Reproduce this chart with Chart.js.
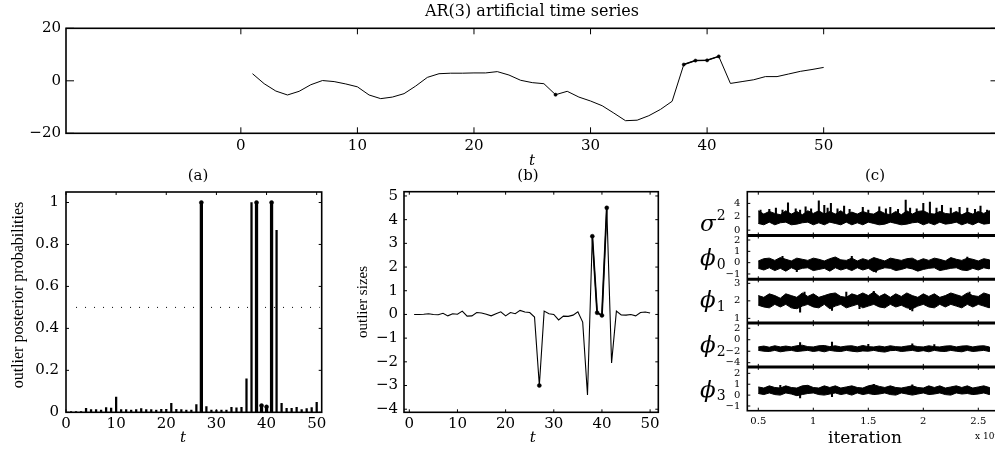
<!DOCTYPE html>
<html>
<head>
<meta charset="utf-8">
<script src="https://cdn.jsdelivr.net/npm/chart.js@4.4.1/dist/chart.umd.min.js"></script>
<style>
  html, body { margin: 0; padding: 0; background: #fff; width: 995px; height: 453px; overflow: hidden; }
  .panel { position: absolute; }
</style>
</head>
<body>
<div class="panel" style="left:0;top:0"><canvas id="topChart" width="1010" height="172"></canvas></div>
<div class="panel" style="left:0;top:160px"><canvas id="probChart" width="330" height="293"></canvas></div>
<div class="panel" style="left:330px;top:160px"><canvas id="sizeChart" width="335" height="293"></canvas></div>
<div class="panel" style="left:665px;top:160px"><canvas id="mcmcChart" width="345" height="293"></canvas></div>
<script>
// time index shared by the top series and panels (a), (b)
const tIndex = [1,2,3,4,5,6,7,8,9,10,11,12,13,14,15,16,17,18,19,20,21,22,23,24,25,
  26,27,28,29,30,31,32,33,34,35,36,37,38,39,40,41,42,43,44,45,46,47,48,49,50];
const outlierTimes = [27, 38, 39, 40, 41];

// AR(3) series (top)
const arSeries = [2.7,-1.1,-3.9,-5.4,-4.0,-1.5,0.1,-0.3,-1.2,-2.3,-5.4,-6.8,-6.2,-4.9,-2.0,1.3,2.7,2.9,2.9,3.0,
  3.0,3.5,2.2,0.2,-0.7,-1.1,-5.3,-4.0,-6.2,-7.7,-9.5,-12.3,-15.2,-15.0,-13.3,-10.9,-7.8,6.2,7.7,7.8,
  9.3,-1.0,-0.3,0.4,1.6,1.6,2.6,3.6,4.3,5.1];
const topXTicks = [0, 10, 20, 30, 40, 50];
const topYTicks = [-20, 0, 20];

// (a) outlier posterior probabilities
const probs = [0.004,0.004,0.004,0.019,0.013,0.013,0.01,0.022,0.02,0.072,0.013,0.013,0.011,0.013,0.018,0.013,0.013,0.011,0.014,0.014,
  0.043,0.014,0.013,0.011,0.01,0.037,1.0,0.027,0.01,0.01,0.01,0.011,0.024,0.021,0.024,0.16,1.0,1.0,0.032,0.026,
  1.0,0.867,0.043,0.019,0.019,0.024,0.013,0.018,0.022,0.048];
const probXTicks = [0, 10, 20, 30, 40, 50];
const probYTicks = [0, 0.2, 0.4, 0.6, 0.8, 1];
const probThreshold = 0.5;
const thresholdSpan = [2, 50.6];

// (b) outlier sizes
const sizes = [0,0,0.01,0.03,0,-0.01,0.05,-0.06,0.03,0.01,0.14,-0.07,-0.06,0.08,0.06,0.01,-0.06,0.03,0.11,-0.06,
  0.08,0.03,0.17,0.1,0.08,-0.11,-3.0,0.14,0.03,0,-0.23,-0.07,-0.08,-0.03,0.11,-0.32,-3.4,3.3,0.07,-0.04,
  4.5,-2.05,0.14,-0.02,-0.03,0,-0.06,0.08,0.1,0.06];
const sizeXTicks = [0, 10, 20, 30, 40, 50];
const sizeYTicks = [-4, -3, -2, -1, 0, 1, 2, 3, 4, 5];

// (c) MCMC traces, iterations in units of 10^4: band edges + visible spikes [x, low, high]
const iterX = [0.5,0.55,0.6,0.65,0.7,0.75,0.8,0.85,0.9,0.95,1.0,1.05,1.1,1.15,1.2,1.25,1.3,1.35,1.4,1.45,1.5,
  1.55,1.6,1.65,1.7,1.75,1.8,1.85,1.9,1.95,2.0,2.05,2.1,2.15,2.2,2.25,2.3,2.35,2.4,2.45,2.5,2.55,2.6];
const iterTicks = [0.5, 1, 1.5, 2, 2.5];

const sigmaHigh = [2.9,2.4,2.8,2.5,2.3,2.9,2.4,2.8,2.3,2.9,2.5,2.9,2.4,2.8,2.4,2.9,2.3,2.7,2.4,2.8,2.5,
  2.4,2.9,2.5,2.3,2.8,2.3,2.9,2.4,2.8,2.9,2.5,2.4,2.8,2.5,2.4,2.8,2.3,2.7,2.4,2.8,2.5,2.9];
const sigmaLow = [1.0,0.8,1.2,0.8,1.1,1.2,0.8,0.9,1.1,1.2,0.8,1.1,0.8,1.2,1.0,0.8,1.2,0.8,1.1,0.8,1.2,
  1.0,0.8,0.9,1.2,1.0,0.8,0.9,1.1,1.2,0.8,1.1,0.8,1.2,0.9,1.0,1.2,0.8,1.1,0.8,1.2,0.9,1.0];
const sigmaSpikes = [[0.52,2,3.0],[0.6,2,3.1],[0.66,2,3.3],[0.72,2,3.0],[0.77,2,4.1],[0.84,2,3.2],[0.88,2,3.0],
  [0.93,2,3.5],[0.98,2,3.2],[1.05,2,4.4],[1.1,2,3.7],[1.13,2,3.3],[1.16,2,4.0],[1.22,2,3.2],[1.28,2,3.6],
  [1.33,2,3.1],[1.45,2,3.4],[1.5,2,3.0],[1.6,2,3.5],[1.66,2,3.2],[1.7,2,3.4],[1.77,2,3.1],[1.84,2,4.5],
  [1.88,2,3.3],[1.94,2,3.2],[2.0,2,4.0],[2.06,2,4.2],[2.12,2,3.3],[2.17,2,3.7],[2.25,2,3.3],[2.33,2,3.4],
  [2.4,2,3.3],[2.47,2,3.1],[2.52,2,3.6],[2.58,2,3.0]];

const phi0High = [0.15,0.35,0.4,0.2,0.45,0.3,0.15,0.4,0.3,0.2,0.4,0.3,0.15,0.35,0.5,0.25,0.2,0.4,0.15,0.35,0.2,
  0.45,0.3,0.15,0.4,0.3,0.2,0.35,0.4,0.15,0.35,0.2,0.4,0.3,0.15,0.45,0.3,0.2,0.4,0.3,0.15,0.35,0.25];
const phi0Low = [-0.5,-0.65,-0.45,-0.7,-0.5,-0.75,-0.45,-0.65,-0.5,-0.45,-0.7,-0.6,-0.5,-0.75,-0.45,-0.65,-0.5,-0.7,-0.45,-0.65,-0.5,
  -0.8,-0.6,-0.45,-0.5,-0.7,-0.6,-0.45,-0.55,-0.75,-0.6,-0.5,-0.45,-0.7,-0.6,-0.5,-0.45,-0.65,-0.7,-0.5,-0.65,-0.45,-0.55];
const phi0Spikes = [[0.72,-0.2,0.55],[0.85,-0.8,-0.2],[1.35,-0.2,0.55],[1.57,-0.85,-0.2],[2.4,-0.2,0.5]];

const phi1High = [2.3,2.2,2.4,2.3,2.15,2.4,2.3,2.2,2.45,2.25,2.4,2.2,2.3,2.4,2.45,2.25,2.2,2.4,2.3,2.45,2.3,
  2.5,2.25,2.4,2.2,2.4,2.25,2.45,2.3,2.2,2.4,2.25,2.4,2.2,2.3,2.45,2.35,2.25,2.45,2.3,2.25,2.45,2.35];
const phi1Low = [1.75,1.65,1.6,1.8,1.65,1.8,1.6,1.55,1.7,1.8,1.65,1.6,1.8,1.55,1.7,1.8,1.6,1.7,1.8,1.6,1.7,
  1.8,1.65,1.6,1.8,1.65,1.75,1.6,1.55,1.7,1.8,1.65,1.6,1.8,1.65,1.8,1.7,1.6,1.8,1.65,1.8,1.7,1.6];
const phi1Spikes = [[0.83,1.55,2.0],[0.88,1.35,2.0],[0.92,2.0,2.5],[1.17,1.45,2.0],[1.3,2.0,2.5],[1.42,1.55,2.0],
  [1.55,2.0,2.55],[1.88,1.5,2.0],[1.9,1.42,2.0],[2.42,2.0,2.5]];

const phi2High = [-1.25,-1.1,-1.3,-1.05,-1.25,-1.1,-1.25,-1.05,-0.95,-1.2,-1.25,-1.05,-1.0,-1.2,-1.05,-1.25,-1.1,-1.05,-1.25,-1.0,-1.2,
  -1.25,-1.1,-1.25,-1.05,-1.2,-1.25,-1.1,-1.0,-1.2,-1.25,-1.05,-1.2,-1.25,-1.1,-1.05,-1.25,-1.1,-1.05,-1.25,-1.1,-1.05,-1.25];
const phi2Low = [-1.85,-2.0,-2.05,-1.85,-2.1,-1.95,-1.85,-2.05,-1.95,-1.85,-2.05,-1.9,-2.1,-1.85,-2.0,-2.05,-1.85,-2.0,-2.1,-1.95,-2.0,
  -1.85,-2.05,-2.15,-1.9,-1.85,-2.05,-1.95,-1.85,-2.05,-1.9,-2.1,-1.85,-2.0,-2.05,-1.85,-2.0,-2.1,-1.85,-2.05,-1.95,-1.85,-2.05];
const phi2Spikes = [[0.88,-1.5,-0.5],[1.17,-1.5,-0.4],[1.5,-1.5,-0.8],[1.9,-1.5,-0.7],[2.1,-1.5,-0.85]];

const phi3High = [0.75,0.65,0.85,0.7,0.65,0.85,0.7,0.65,0.85,0.9,0.7,0.65,0.85,0.7,0.85,0.65,0.75,0.85,0.7,0.65,0.85,
  0.95,0.8,0.7,0.85,0.7,0.65,0.75,0.85,0.7,0.65,0.85,0.7,0.85,0.65,0.75,0.85,0.7,0.85,0.65,0.75,0.85,0.7];
const phi3Low = [0.15,0.05,0.2,0.05,0.0,0.2,0.1,-0.05,0.05,0.15,0.2,0.05,0.0,0.1,0.2,0.05,0.15,0.0,0.2,0.05,0.15,
  0.05,0.1,0.2,0.05,0.0,0.2,0.1,0.0,0.1,0.2,0.05,0.1,0.2,0.05,0.0,0.2,0.1,0.15,0.05,0.1,0.2,0.05];
const phi3Spikes = [[0.7,0.4,0.9],[0.88,-0.25,0.4],[1.17,-0.15,0.4],[1.55,0.4,1.0],[1.9,0.4,0.95]];

const sigmaTicks = [0, 2, 4];
const phi0Ticks = [-1, 0, 1, 2];
const phi1Ticks = [1, 2, 3];
const phi2Ticks = [-4, -2, 0, 2];
const phi3Ticks = [-1, 0, 1, 2];

const SERIF = '"DejaVu Serif", serif';
Chart.defaults.font.family = SERIF;
Chart.defaults.color = '#000';
Chart.defaults.animation = false;

const fmt = v => (v < 0 ? '\u2212' + Math.abs(v) : String(v));
const fixedTicks = list => scale => { scale.ticks = list.map(v => ({ value: v })); };

function seg(ctx, x1, y1, x2, y2) {
  ctx.beginPath(); ctx.moveTo(x1, y1); ctx.lineTo(x2, y2); ctx.stroke();
}

function xAxis(min, max, ticks, height, pad, size) {
  return {
    type: 'linear', min, max, bounds: 'data', offset: false,
    grid: { display: false, drawTicks: false }, border: { display: false },
    afterBuildTicks: fixedTicks(ticks), afterFit: s => { s.height = height; },
    ticks: { padding: pad, maxRotation: 0, autoSkip: false, font: { family: SERIF, size }, callback: v => fmt(v) }
  };
}
function yAxis(min, max, ticks, width, pad, size, extra) {
  return Object.assign({
    type: 'linear', position: 'left', min, max, bounds: 'data', offset: false,
    grid: { display: false, drawTicks: false }, border: { display: false },
    afterBuildTicks: fixedTicks(ticks), afterFit: s => { s.width = width; },
    ticks: { padding: pad, autoSkip: false, font: { family: SERIF, size }, callback: v => fmt(v) }
  }, extra || {});
}

// box with inward ticks on all four sides
const boxFrame = {
  id: 'boxFrame',
  afterDatasetsDraw(chart, args, o) {
    const { ctx, chartArea: a } = chart;
    const xs = chart.scales.x, ys = chart.scales.y;
    ctx.save();
    ctx.strokeStyle = '#000';
    ctx.lineWidth = 1;
    xs.ticks.forEach(t => {
      const p = xs.getPixelForValue(t.value);
      seg(ctx, p, a.bottom, p, a.bottom - o.xTick);
      seg(ctx, p, a.top, p, a.top + o.xTick);
    });
    ys.ticks.forEach(t => {
      const p = ys.getPixelForValue(t.value);
      seg(ctx, a.left, p, a.left + o.yTick, p);
      seg(ctx, a.right, p, a.right - o.yTick, p);
    });
    ctx.lineWidth = o.lineWidth;
    ctx.strokeRect(a.left, a.top, a.right - a.left, a.bottom - a.top);
    ctx.restore();
  }
};

const texts = {
  id: 'texts',
  afterDraw(chart, args, o) {
    const ctx = chart.ctx;
    o.items.forEach(it => {
      ctx.save();
      ctx.font = it.font;
      ctx.fillStyle = '#000';
      ctx.textAlign = it.align || 'center';
      ctx.textBaseline = 'middle';
      ctx.translate(it.x, it.y);
      if (it.rotate) ctx.rotate(-Math.PI / 2);
      ctx.fillText(it.text, 0, 0);
      ctx.restore();
    });
  }
};

const quiet = { legend: { display: false }, tooltip: { enabled: false } };

// top: AR(3) series
new Chart(document.getElementById('topChart'), {
  type: 'line',
  data: {
    datasets: [
      { data: tIndex.map((t, i) => ({ x: t, y: arSeries[i] })), borderColor: '#000', borderWidth: 1, pointRadius: 0, tension: 0 },
      { data: tIndex.map((t, i) => ({ x: t, y: outlierTimes.includes(t) ? arSeries[i] : null })),
        borderColor: '#000', backgroundColor: '#000', borderWidth: 1.5, pointRadius: 1.6, pointBorderWidth: 0.5,
        spanGaps: false, tension: 0 }
    ]
  },
  options: {
    responsive: false, events: [],
    layout: { padding: { left: 0, top: 28.3, right: 11.5, bottom: 0 } },
    plugins: Object.assign({}, quiet, {
      boxFrame: { xTick: 6, yTick: 8, lineWidth: 1.6 },
      texts: { items: [
        { text: 'AR(3) artificial time series', x: 532, y: 12, font: '16px ' + SERIF },
        { text: 't', x: 532, y: 161, font: 'italic 15px ' + SERIF }
      ] }
    }),
    scales: { x: xAxis(-15, 65, topXTicks, 38.7, 4, 15), y: yAxis(-20, 20, topYTicks, 66, 5, 15) }
  },
  plugins: [boxFrame, texts]
});

// (a) stem plot of outlier probabilities
new Chart(document.getElementById('probChart'), {
  type: 'bar',
  data: {
    datasets: [
      { data: tIndex.map((t, i) => ({ x: t, y: probs[i] })), backgroundColor: '#000', barThickness: 1.6, grouped: false },
      { data: outlierTimes.map(t => ({ x: t, y: probs[t - 1] })), backgroundColor: '#000', barThickness: 2.6, grouped: false },
      { type: 'line', data: outlierTimes.map(t => ({ x: t, y: probs[t - 1] })), showLine: false,
        pointRadius: 2, pointBorderWidth: 0.5, pointBackgroundColor: '#000', pointBorderColor: '#000' },
      { type: 'line', data: thresholdSpan.map(x => ({ x, y: probThreshold })), borderColor: '#000',
        borderWidth: 1, borderDash: [1, 8], pointRadius: 0 }
    ]
  },
  options: {
    responsive: false, events: [],
    layout: { padding: { left: 0, top: 32, right: 8.3, bottom: 0 } },
    plugins: Object.assign({}, quiet, {
      boxFrame: { xTick: 3, yTick: 3, lineWidth: 1.6 },
      texts: { items: [
        { text: '(a)', x: 198, y: 16, font: '15px ' + SERIF },
        { text: 't', x: 183, y: 278, font: 'italic 15px ' + SERIF },
        { text: 'outlier posterior probabilities', x: 19, y: 135, rotate: true, font: '16px "Liberation Serif", serif' }
      ] }
    }),
    scales: { x: xAxis(0, 51, probXTicks, 40.7, 3, 15), y: yAxis(0, 1.05, probYTicks, 66, 7, 15) }
  },
  plugins: [boxFrame, texts]
});

// (b) outlier sizes
new Chart(document.getElementById('sizeChart'), {
  type: 'line',
  data: {
    datasets: [
      { data: tIndex.map((t, i) => ({ x: t, y: sizes[i] })), borderColor: '#000', borderWidth: 1.1, pointRadius: 0, tension: 0 },
      { data: tIndex.map((t, i) => ({ x: t, y: outlierTimes.includes(t) ? sizes[i] : null })),
        borderColor: '#000', backgroundColor: '#000', borderWidth: 1.8, pointRadius: 2, pointBorderWidth: 0.5,
        spanGaps: false, tension: 0 }
    ]
  },
  options: {
    responsive: false, events: [],
    layout: { padding: { left: 0, top: 31.7, right: 6.7, bottom: 0 } },
    plugins: Object.assign({}, quiet, {
      boxFrame: { xTick: 3, yTick: 3, lineWidth: 1.6 },
      texts: { items: [
        { text: '(b)', x: 198, y: 16, font: '15px ' + SERIF },
        { text: 't', x: 202.7, y: 278, font: 'italic 15px ' + SERIF },
        { text: 'outlier sizes', x: 33, y: 142, rotate: true, font: '15px "Liberation Serif", serif' }
      ] }
    }),
    scales: { x: xAxis(-1.1, 51.7, sizeXTicks, 40.7, 3, 15), y: yAxis(-4.13, 5.18, sizeYTicks, 74, 6, 15) }
  },
  plugins: [boxFrame, texts]
});

// (c) stacked MCMC traces
const traces = [
  { id: 'ys', high: sigmaHigh, low: sigmaLow, spikes: sigmaSpikes },
  { id: 'y0', high: phi0High, low: phi0Low, spikes: phi0Spikes },
  { id: 'y1', high: phi1High, low: phi1Low, spikes: phi1Spikes },
  { id: 'y2', high: phi2High, low: phi2Low, spikes: phi2Spikes },
  { id: 'y3', high: phi3High, low: phi3Low, spikes: phi3Spikes }
];
const mcmcDatasets = [];
traces.forEach(tr => {
  const up = iterX.map((x, i) => ({ x, y: tr.high[i] }));
  const down = iterX.map((x, i) => ({ x, y: tr.low[i] })).reverse();
  mcmcDatasets.push({ type: 'line', yAxisID: tr.id, data: up.concat(down), fill: 'shape',
    backgroundColor: '#000', borderColor: '#000', borderWidth: 1, pointRadius: 0, tension: 0 });
  mcmcDatasets.push({ type: 'bar', yAxisID: tr.id, data: tr.spikes.map(s => ({ x: s[0], y: [s[1], s[2]] })),
    backgroundColor: '#000', barThickness: 1.4, grouped: false });
});

const stackFrame = {
  id: 'stackFrame',
  afterDatasetsDraw(chart, args, o) {
    const { ctx, chartArea: a } = chart;
    const xs = chart.scales.x;
    ctx.save();
    ctx.strokeStyle = '#000';
    o.axes.forEach((id, k) => {
      const s = chart.scales[id];
      ctx.lineWidth = 1;
      xs.ticks.forEach(t => {
        const p = xs.getPixelForValue(t.value);
        seg(ctx, p, s.top, p, s.top + 3);
        seg(ctx, p, s.bottom, p, s.bottom - 3);
      });
      s.ticks.forEach(t => {
        const p = s.getPixelForValue(t.value);
        seg(ctx, a.left, p, a.left + 3, p);
      });
      if (k < o.axes.length - 1) {
        ctx.lineWidth = 3;
        seg(ctx, a.left, s.bottom, a.right, s.bottom);
      }
    });
    ctx.lineWidth = 1.6;
    ctx.strokeRect(a.left, a.top, a.right - a.left, a.bottom - a.top);
    // parameter names
    ctx.fillStyle = '#000';
    ctx.textBaseline = 'middle';
    ctx.textAlign = 'left';
    o.names.forEach((n, k) => {
      const s = chart.scales[o.axes[k]];
      const cy = (s.top + s.bottom) / 2 + n.dy;
      ctx.font = 'italic 23px ' + SERIF;
      ctx.fillText(n.main, o.nameX, cy);
      const w = ctx.measureText(n.main).width;
      ctx.font = '14px ' + SERIF;
      ctx.fillText(n.script, o.nameX + w + 1, cy + (n.sup ? -8 : 6));
    });
    ctx.restore();
  }
};

const stacked = { stack: 'c', stackWeight: 1 };
new Chart(document.getElementById('mcmcChart'), {
  type: 'line',
  data: { datasets: mcmcDatasets },
  options: {
    responsive: false, events: [],
    layout: { padding: { left: 0, top: 31.7, right: 9.7, bottom: 0 } },
    plugins: Object.assign({}, quiet, {
      stackFrame: {
        axes: ['ys', 'y0', 'y1', 'y2', 'y3'], nameX: 35,
        names: [
          { main: '\u03c3', script: '2', sup: true, dy: 11 },
          { main: '\u03d5', script: '0', sup: false, dy: 2 },
          { main: '\u03d5', script: '1', sup: false, dy: 0 },
          { main: '\u03d5', script: '2', sup: false, dy: 1 },
          { main: '\u03d5', script: '3', sup: false, dy: 2 }
        ]
      },
      texts: { items: [
        { text: '(c)', x: 210, y: 16, font: '15px ' + SERIF },
        { text: 'iteration', x: 200, y: 279, font: '17px ' + SERIF },
        { text: 'x 10\u2074', x: 310, y: 277, align: 'left', font: '9px ' + SERIF }
      ] }
    }),
    scales: {
      x: xAxis(0.4, 2.7, iterTicks, 42.3, 5, 10),
      ys: yAxis(-0.8, 5.75, sigmaTicks, 82.3, 7, 10, Object.assign({ weight: 5 }, stacked)),
      y0: yAxis(-1.47, 2.4, phi0Ticks, 82.3, 7, 10, Object.assign({ weight: 4 }, stacked)),
      y1: yAxis(0.73, 3.23, phi1Ticks, 82.3, 7, 10, Object.assign({ weight: 3 }, stacked)),
      y2: yAxis(-4.73, 2.9, phi2Ticks, 82.3, 7, 10, Object.assign({ weight: 2 }, stacked)),
      y3: yAxis(-1.43, 2.59, phi3Ticks, 82.3, 7, 10, Object.assign({ weight: 1 }, stacked))
    }
  },
  plugins: [stackFrame, texts]
});
</script>
</body>
</html>
